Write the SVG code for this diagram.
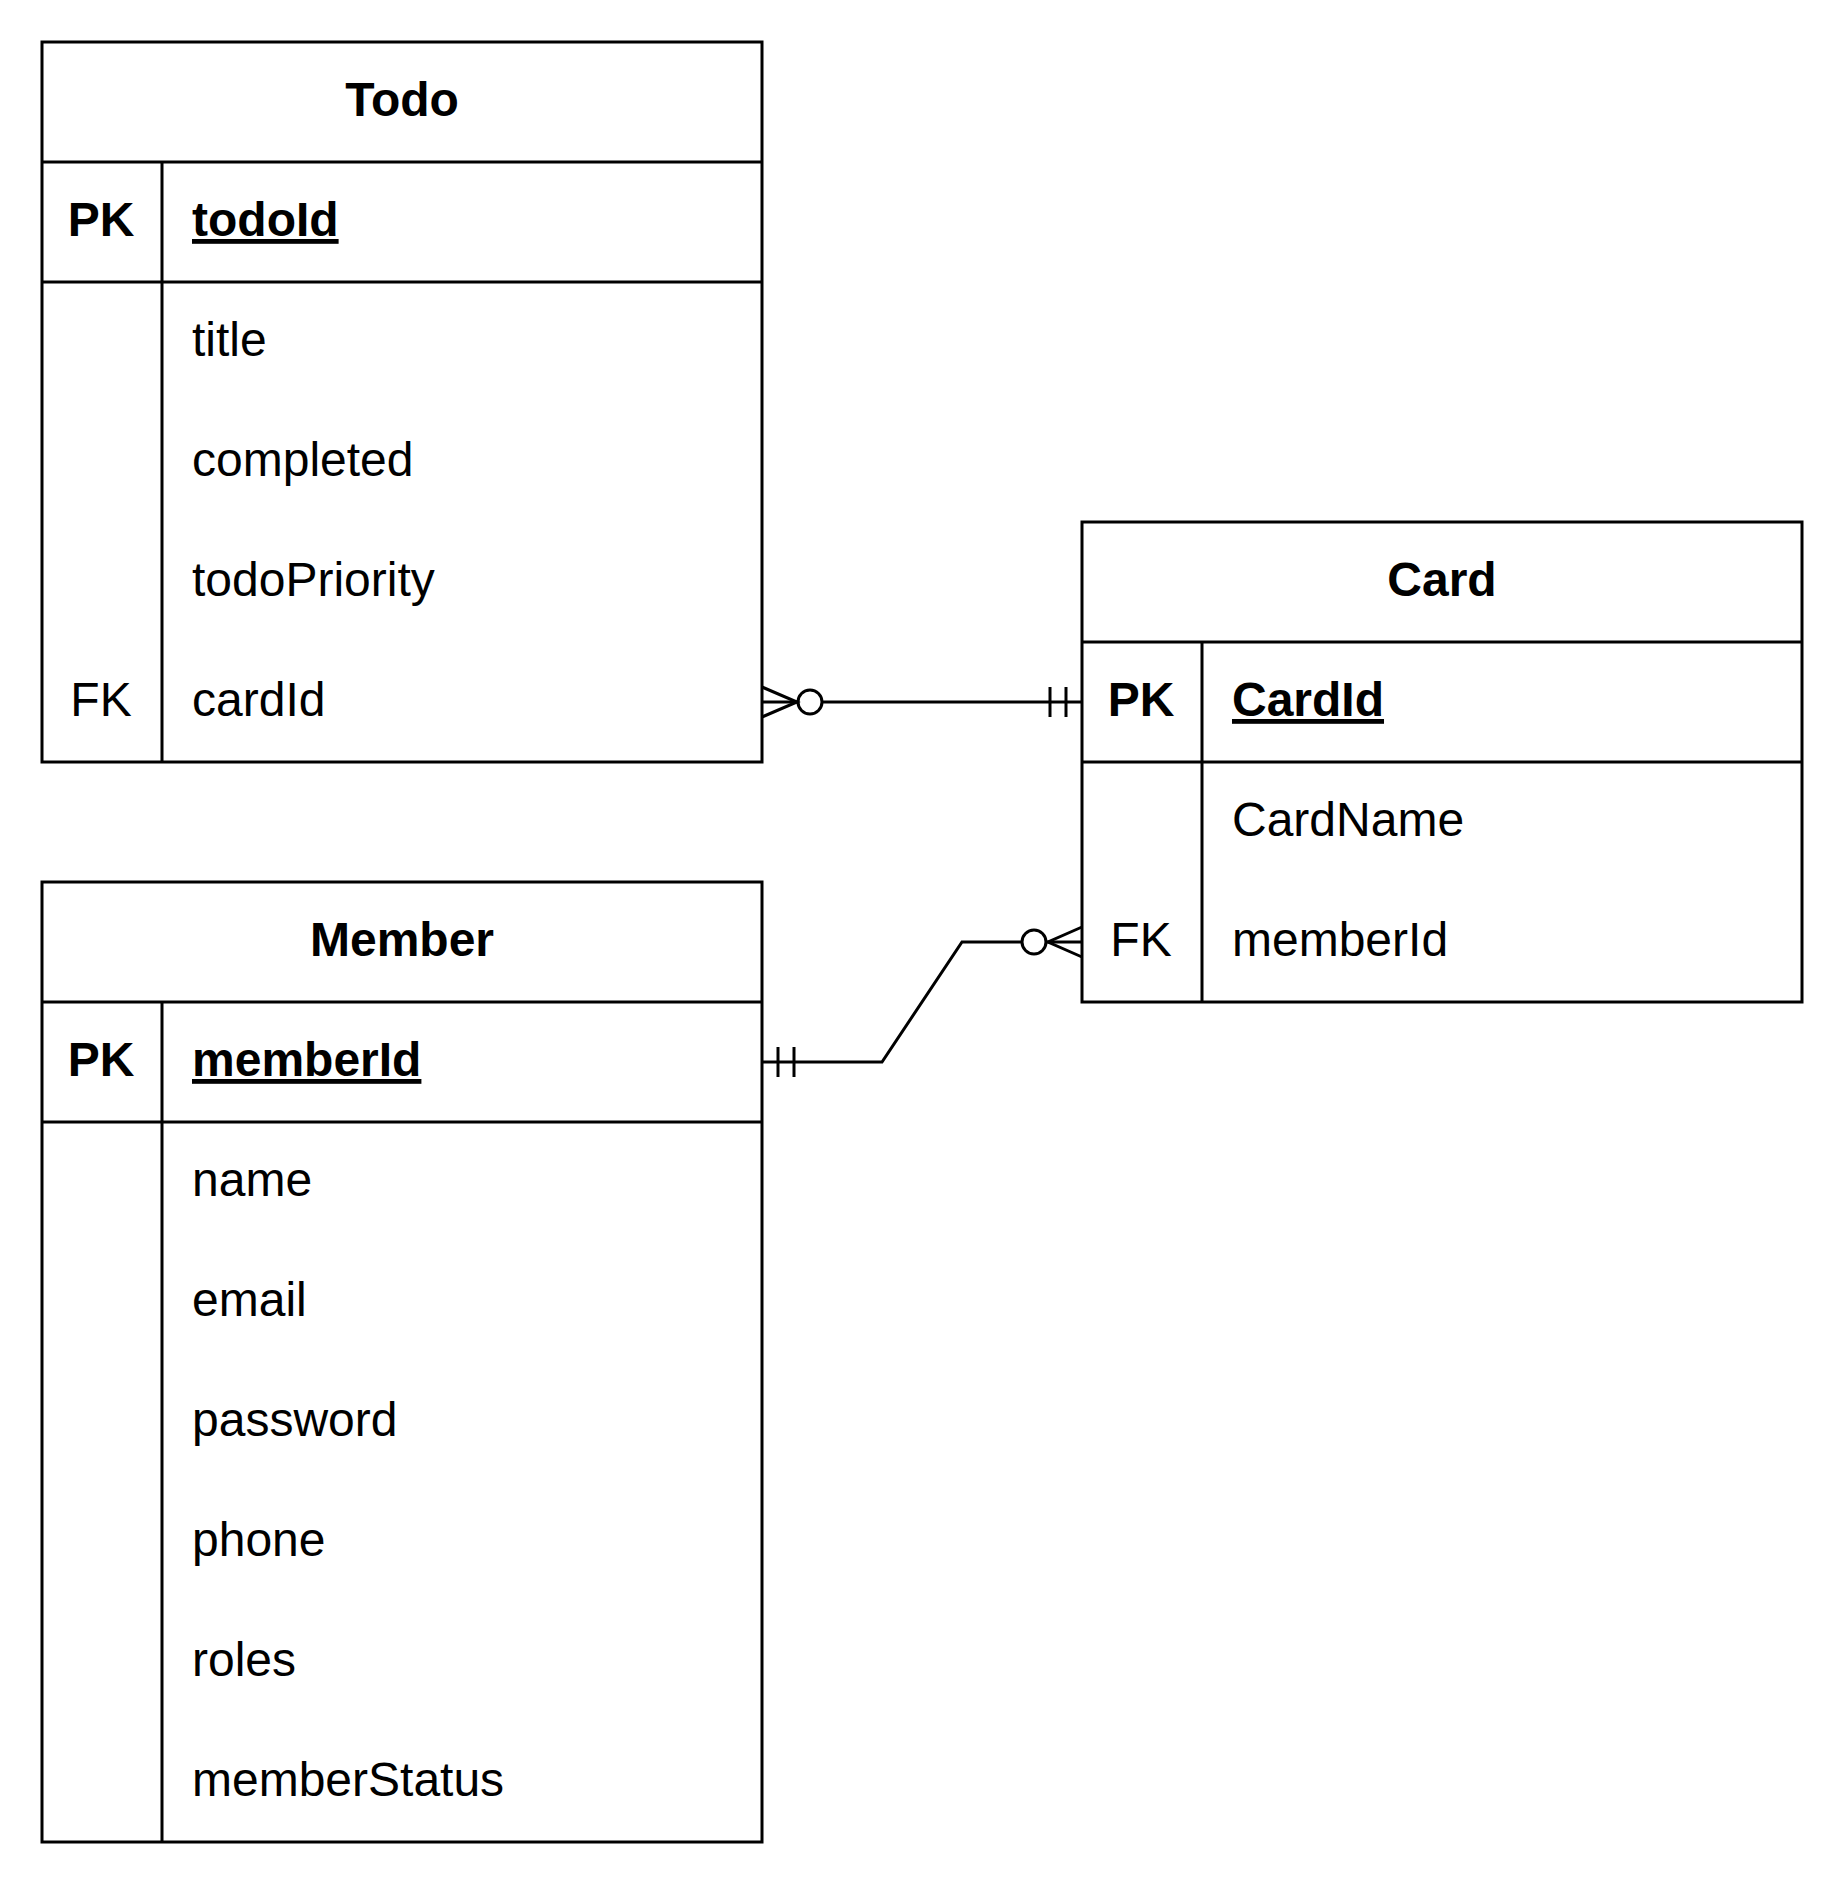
<svg xmlns="http://www.w3.org/2000/svg" width="1844" height="1884" viewBox="0 0 1844 1884">
<style>
.box{fill:#fff;stroke:#000;stroke-width:3}
.ln{fill:none;stroke:#000;stroke-width:3}
text{font-family:"Liberation Sans",Arial,sans-serif;font-size:48px;fill:#000}
.b{font-weight:bold}
.c{text-anchor:middle}
.u{text-decoration:underline}
</style>
<rect width="1844" height="1884" fill="#fff"/>
<g id="Todo">
<rect class="box" x="42" y="42" width="720" height="720"/>
<line class="ln" x1="42" y1="162" x2="762" y2="162"/>
<line class="ln" x1="42" y1="282" x2="762" y2="282"/>
<line class="ln" x1="162" y1="162" x2="162" y2="762"/>
<text class="b c" x="402" y="116">Todo</text>
<text class="b c" x="101" y="236">PK</text>
<text class="b u" x="192" y="236">todoId</text>
<text x="192" y="356">title</text>
<text x="192" y="476">completed</text>
<text x="192" y="596">todoPriority</text>
<text class="c" x="101" y="716">FK</text>
<text x="192" y="716">cardId</text>
</g>
<g id="Card">
<rect class="box" x="1082" y="522" width="720" height="480"/>
<line class="ln" x1="1082" y1="642" x2="1802" y2="642"/>
<line class="ln" x1="1082" y1="762" x2="1802" y2="762"/>
<line class="ln" x1="1202" y1="642" x2="1202" y2="1002"/>
<text class="b c" x="1442" y="596">Card</text>
<text class="b c" x="1141" y="716">PK</text>
<text class="b u" x="1232" y="716">CardId</text>
<text x="1232" y="836">CardName</text>
<text class="c" x="1141" y="956">FK</text>
<text x="1232" y="956">memberId</text>
</g>
<g id="Member">
<rect class="box" x="42" y="882" width="720" height="960"/>
<line class="ln" x1="42" y1="1002" x2="762" y2="1002"/>
<line class="ln" x1="42" y1="1122" x2="762" y2="1122"/>
<line class="ln" x1="162" y1="1002" x2="162" y2="1842"/>
<text class="b c" x="402" y="956">Member</text>
<text class="b c" x="101" y="1076">PK</text>
<text class="b u" x="192" y="1076">memberId</text>
<text x="192" y="1196">name</text>
<text x="192" y="1316">email</text>
<text x="192" y="1436">password</text>
<text x="192" y="1556">phone</text>
<text x="192" y="1676">roles</text>
<text x="192" y="1796">memberStatus</text>
</g>
<g id="connectors">
<g id="todo-card">
<line class="ln" x1="762" y1="702" x2="798" y2="702"/>
<polyline class="ln" points="762,687 797,702 762,717"/>
<circle class="ln" cx="810" cy="702" r="12"/>
<line class="ln" x1="822" y1="702" x2="1082" y2="702"/>
<line class="ln" x1="1050" y1="687" x2="1050" y2="717"/>
<line class="ln" x1="1066" y1="687" x2="1066" y2="717"/>
</g>
<g id="member-card">
<line class="ln" x1="762" y1="1062" x2="778" y2="1062"/>
<line class="ln" x1="778" y1="1047" x2="778" y2="1077"/>
<line class="ln" x1="794" y1="1047" x2="794" y2="1077"/>
<polyline class="ln" points="778,1062 882,1062 962,942 1022,942"/>
<circle class="ln" cx="1034" cy="942" r="12"/>
<line class="ln" x1="1046" y1="942" x2="1082" y2="942"/>
<polyline class="ln" points="1082,927 1048,942 1082,957"/>
</g>
</g>
</svg>
